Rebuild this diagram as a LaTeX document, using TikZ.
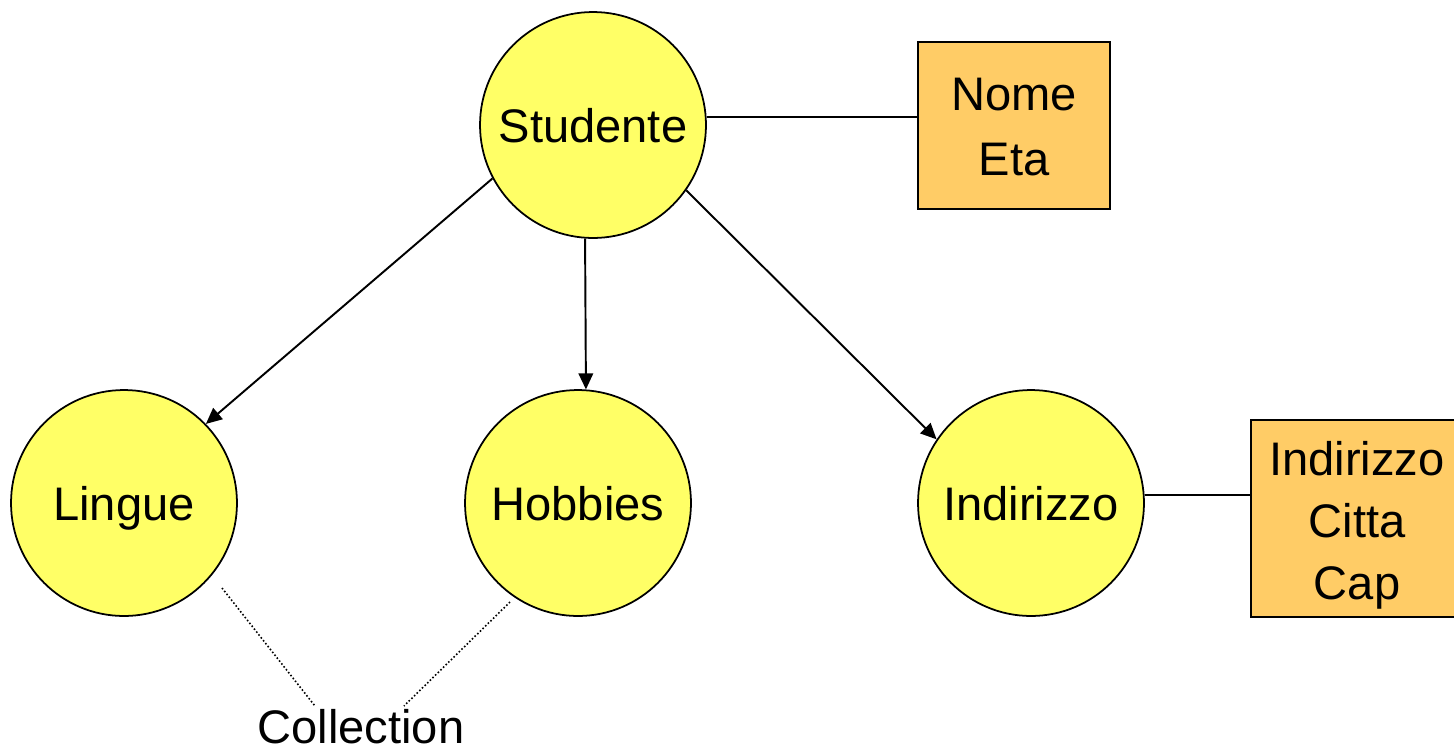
\documentclass[tikz,border=0pt]{standalone}
\usepackage{fontspec}
\setmainfont{Liberation Sans}
\usetikzlibrary{arrows.meta}
\definecolor{entityfill}{HTML}{FFFF66}
\definecolor{attrfill}{HTML}{FFCC66}
\newcommand\diagfont{\fontsize{26.8}{36.4}\selectfont}
\begin{document}
\begin{tikzpicture}[x=0.02cm,y=-0.02cm,
  entity/.style={circle,draw,line width=1pt,fill=entityfill,minimum size=4.52cm,inner sep=0pt,font=\diagfont,text depth=0pt},
  attrbox/.style={rectangle,draw,line width=1pt,fill=attrfill,inner sep=0pt},
  attrtext/.style={inner sep=0pt,align=center},
  link/.style={line width=1.1pt},
  rel/.style={line width=1.1pt,-{Triangle[length=0.32cm,width=0.29cm]}},
  coll/.style={line width=0.9pt,dash pattern=on 0.9pt off 1.2pt}]
\useasboundingbox (0,0) rectangle (1454,748);

% entities
\node[entity] (stud) at (593,125) {Studente};
\node[entity] (ling) at (124,503) {Lingue};
\node[entity] (hobb) at (578,503) {Hobbies};
\node[entity] (indc) at (1031,503) {Indirizzo};

% attribute boxes and their field lists
\node[attrbox,minimum width=3.84cm,minimum height=3.34cm] (nome) at (1014,125.5) {};
\node[attrtext,font=\fontsize{26.8}{37}\selectfont] (nomet) at (1014,127) {Nome\\Eta};
\node[attrbox,minimum width=4.24cm,minimum height=3.94cm] (indb) at (1357,518.5) {};
\node[attrtext,font=\fontsize{26.8}{35.2}\selectfont] (indbt) at (1357,525) {Indirizzo\\Citta\\Cap};

% collection label
\node[font=\diagfont,anchor=base,inner sep=0pt] (coll) at (361,743) {Collection};

% attribute links
\draw[link] (stud.4) -- (stud.4 -| nome.west);
\draw[link] (indc.4) -- (indc.4 -| indb.west);

% relationships
\draw[rel] (stud.208.8) -- (ling.44.7);
\draw[rel] (stud.266.5) -- (hobb.86);
\draw[rel] (stud.325) -- (indc.146);

% collection markers
\coordinate (c1a) at (222,588);
\coordinate (c1b) at (315,706);
\coordinate (c2a) at (510,602);
\coordinate (c2b) at (404,706);
\draw[coll] (c1a) -- (c1b);
\draw[coll] (c2a) -- (c2b);
\end{tikzpicture}
\end{document}
